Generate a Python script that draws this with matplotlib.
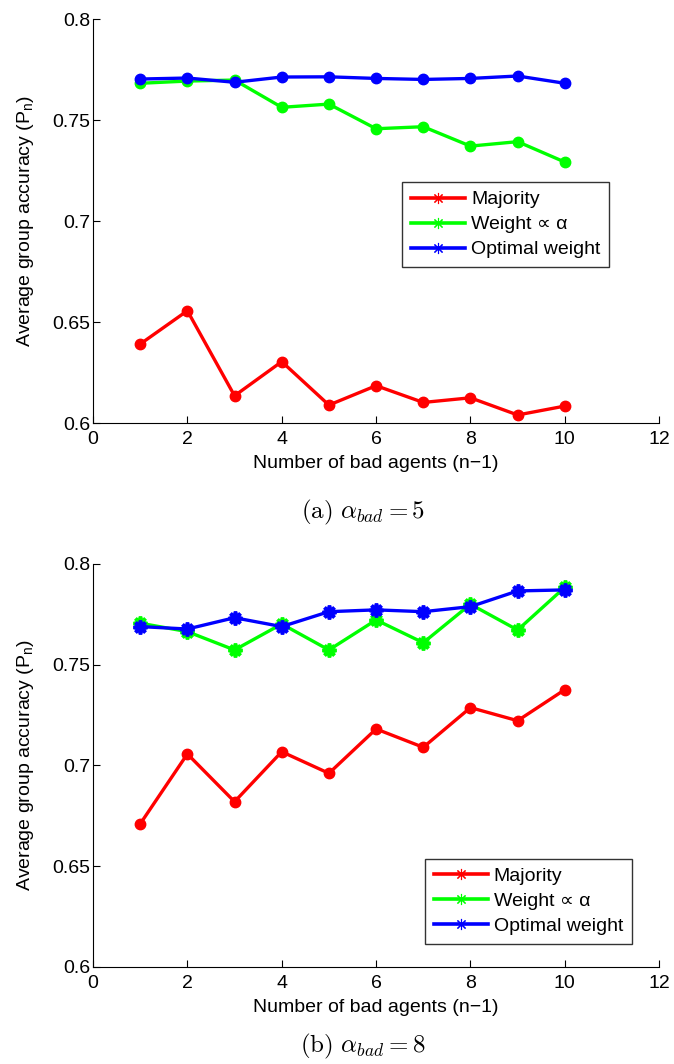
import numpy as np
import matplotlib
matplotlib.use("Agg")
import matplotlib.pyplot as plt
from matplotlib.lines import Line2D

plt.rcParams['font.family'] = ['Liberation Sans', 'DejaVu Sans']

# data
n_bad = [1, 2, 3, 4, 5, 6, 7, 8, 9, 10]

# (a) alpha_bad = 5
maj_a = [0.6391, 0.6556, 0.6135, 0.6304, 0.6089, 0.6185, 0.6102, 0.6125, 0.6040, 0.6084]
wgt_a = [0.7682, 0.7693, 0.7698, 0.7563, 0.7579, 0.7457, 0.7467, 0.7371, 0.7393, 0.7292]
opt_a = [0.7703, 0.7708, 0.7687, 0.7713, 0.7714, 0.7706, 0.7701, 0.7706, 0.7718, 0.7682]

# (b) alpha_bad = 8
maj_b = [0.6710, 0.7057, 0.6820, 0.7068, 0.6961, 0.7181, 0.7090, 0.7287, 0.7222, 0.7376]
wgt_b = [0.7706, 0.7664, 0.7573, 0.7702, 0.7573, 0.7722, 0.7609, 0.7800, 0.7672, 0.7884]
opt_b = [0.7689, 0.7677, 0.7733, 0.7689, 0.7763, 0.7772, 0.7763, 0.7788, 0.7866, 0.7871]

labels = ['Majority', 'Weight \u221d \u03b1', 'Optimal weight']
colors = ['#ff0000', '#00ff00', '#0000ff']
yticks = [0.6, 0.65, 0.7, 0.75, 0.8]
yticklabels = ['0.6', '0.65', '0.7', '0.75', '0.8']
xticks = [0, 2, 4, 6, 8, 10, 12]

ast = (8, 2, 0)  # matlab style asterisk

fig = plt.figure(figsize=(6.74, 10.64), dpi=100)
ax1 = fig.add_axes([0.138, 0.6024, 0.840, 0.3797])
ax2 = fig.add_axes([0.138, 0.0912, 0.840, 0.3788])


def style(ax):
    ax.set_xlim(0, 12)
    ax.set_ylim(0.6, 0.8)
    ax.set_xticks(xticks)
    ax.set_yticks(yticks)
    ax.set_yticklabels(yticklabels)
    ax.spines['top'].set_visible(False)
    ax.spines['right'].set_visible(False)
    ax.tick_params(direction='in', length=5, width=0.8, labelsize=14)
    ax.tick_params(axis='x', pad=6)
    ax.tick_params(axis='y', pad=2)
    ax.set_xlabel('Number of bad agents (n\u22121)', fontsize=14, labelpad=5)
    ax.set_ylabel(r'Average group accuracy (P$\mathregular{_n}$)', fontsize=14,
                  labelpad=12)


def add_legend(ax, loc, anchor):
    handles = [Line2D([], [], color=c, lw=2.6, marker=ast, markersize=8,
                      markeredgewidth=0.8) for c in colors]
    leg = ax.legend(handles, labels, loc=loc, bbox_to_anchor=anchor,
                    borderaxespad=0, fontsize=14, frameon=True, fancybox=False,
                    handlelength=2.8, borderpad=0.45, labelspacing=0.38,
                    handletextpad=0.3)
    leg.get_frame().set_edgecolor('black')
    leg.get_frame().set_linewidth(1.0)


# top panel: all filled circles
for y, c in zip([maj_a, wgt_a, opt_a], colors):
    ax1.plot(n_bad, y, color=c, lw=2.4, marker='o', markersize=7.5,
             markeredgecolor=c)
style(ax1)
add_legend(ax1, 'upper left', (0.546, 0.5965))

# bottom panel: circles for majority, asterisks for the others
ax2.plot(n_bad, maj_b, color=colors[0], lw=2.4, marker='o', markersize=7.5)
ax2.plot(n_bad, wgt_b, color=colors[1], lw=2.4, marker=ast, markersize=10,
         markeredgewidth=2.6)
ax2.plot(n_bad, opt_b, color=colors[2], lw=2.4, marker=ast, markersize=10,
         markeredgewidth=2.6)
style(ax2)
add_legend(ax2, 'lower right', (0.952, 0.057))

fig.text(0.539, 1 - 512 / 1064, r'$\mathrm{(a)}\ \alpha_{bad} = 5$', ha='center',
         va='center', fontsize=18, math_fontfamily='cm')
fig.text(0.539, 1 - 1046 / 1064, r'$\mathrm{(b)}\ \alpha_{bad} = 8$', ha='center',
         va='center', fontsize=18, math_fontfamily='cm')

fig.savefig('out.png', dpi=100)
